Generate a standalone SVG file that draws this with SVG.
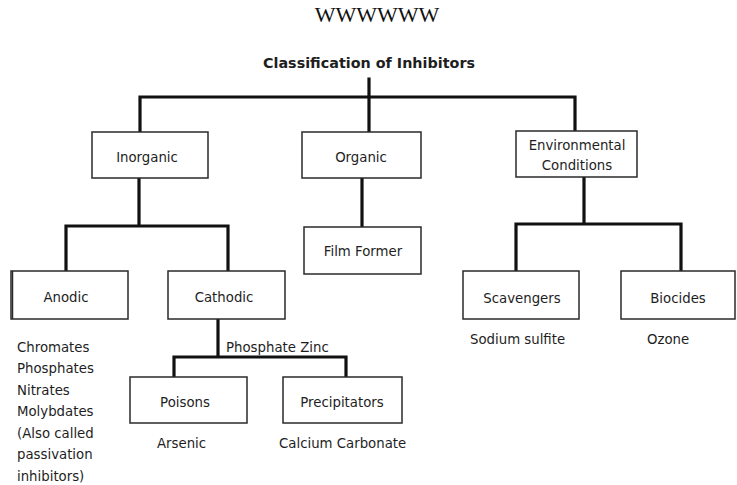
<svg xmlns="http://www.w3.org/2000/svg" width="737" height="485" viewBox="0 0 737 485">
<style>
.box{fill:#fff;stroke:#2a2a2a;stroke-width:1.5}
.t{font-family:"DejaVu Sans",Verdana,sans-serif;font-size:13.3px;fill:#1e1e1e}
.c{text-anchor:middle}
.ln{fill:none;stroke:#111;stroke-width:3.2;stroke-linecap:square}
</style>
<rect width="737" height="485" fill="#fff"/>
<text x="377" y="22" text-anchor="middle" font-family="'Liberation Serif',serif" font-size="22" fill="#111">WWWWWW</text>
<g id="title"><text x="369" y="68" class="t c" font-weight="bold" font-size="14.5" textLength="212" lengthAdjust="spacingAndGlyphs">Classification of Inhibitors</text></g>
<g id="connectors">
<path class="ln" d="M369,79V97M140,133V97H575V131M369,97V133"/>
<path class="ln" d="M139,178V226M66,272V226H228V272"/>
<path class="ln" d="M362,178V227"/>
<path class="ln" d="M584,177V224M516,271V224H681V271"/>
<path class="ln" d="M218,319V357M174,377V357H346V377"/>
</g>
<g id="inorganic"><rect class="box" x="92" y="132" width="116" height="46"/><text class="t c" x="147" y="162">Inorganic</text></g>
<g id="organic"><rect class="box" x="302" y="132" width="119" height="46"/><text class="t c" x="361" y="162">Organic</text></g>
<g id="environmental"><rect class="box" x="516" y="131" width="121" height="46"/><text class="t c" x="577" y="150">Environmental</text><text class="t c" x="577" y="170">Conditions</text></g>
<g id="anodic"><rect class="box" x="11" y="271" width="117" height="48"/><line x1="12.5" y1="271" x2="12.5" y2="319" stroke="#2a2a2a" stroke-width="1.5"/><text class="t c" x="66" y="302">Anodic</text></g>
<g id="cathodic"><rect class="box" x="168" y="271" width="117" height="48"/><text class="t c" x="224" y="302">Cathodic</text></g>
<g id="filmformer"><rect class="box" x="304" y="227" width="117" height="47"/><text class="t c" x="363" y="256">Film Former</text></g>
<g id="scavengers"><rect class="box" x="463" y="271" width="116" height="48"/><text class="t c" x="522" y="303">Scavengers</text></g>
<g id="biocides"><rect class="box" x="621" y="271" width="114" height="48"/><text class="t c" x="678" y="303">Biocides</text></g>
<g id="poisons"><rect class="box" x="130" y="377" width="117" height="46"/><text class="t c" x="185" y="407">Poisons</text></g>
<g id="precipitators"><rect class="box" x="283" y="377" width="119" height="46"/><text class="t c" x="342" y="407">Precipitators</text></g>
<g id="labels">
<text class="t" x="226" y="352">Phosphate Zinc</text>
<text class="t" x="157" y="448">Arsenic</text>
<text class="t" x="279" y="448">Calcium Carbonate</text>
<text class="t" x="470" y="344">Sodium sulfite</text>
<text class="t" x="647" y="344">Ozone</text>
<text class="t" x="17" y="352">Chromates</text>
<text class="t" x="17" y="373">Phosphates</text>
<text class="t" x="17" y="395">Nitrates</text>
<text class="t" x="17" y="416">Molybdates</text>
<text class="t" x="17" y="438">(Also called</text>
<text class="t" x="17" y="459">passivation</text>
<text class="t" x="17" y="481">inhibitors)</text>
</g>
</svg>
